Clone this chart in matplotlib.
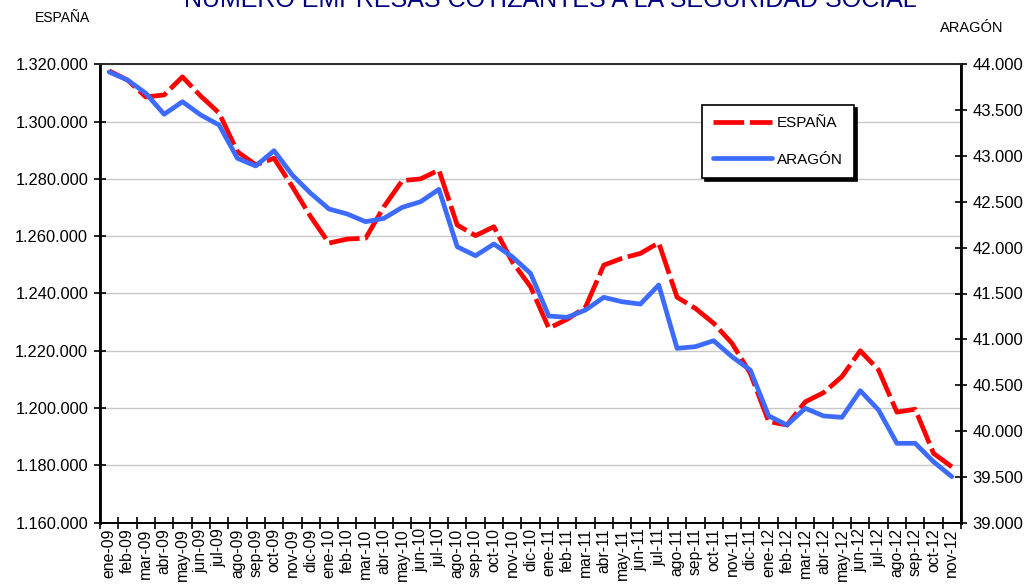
import matplotlib
matplotlib.use("Agg")
import matplotlib.pyplot as plt
from matplotlib.ticker import FuncFormatter, FixedLocator, NullFormatter

plt.rcParams['font.family'] = ['Liberation Sans', 'DejaVu Sans']

months = ["ene-09", "feb-09", "mar-09", "abr-09", "may-09", "jun-09", "jul-09", "ago-09",
          "sep-09", "oct-09", "nov-09", "dic-09",
          "ene-10", "feb-10", "mar-10", "abr-10", "may-10", "jun-10", "jul-10", "ago-10",
          "sep-10", "oct-10", "nov-10", "dic-10",
          "ene-11", "feb-11", "mar-11", "abr-11", "may-11", "jun-11", "jul-11", "ago-11",
          "sep-11", "oct-11", "nov-11", "dic-11",
          "ene-12", "feb-12", "mar-12", "abr-12", "may-12", "jun-12", "jul-12", "ago-12",
          "sep-12", "oct-12", "nov-12"]

espana = [1317700, 1314500, 1308600, 1309300, 1315600, 1308900, 1303000, 1289500,
          1284900, 1287200, 1277300, 1266800,
          1257600, 1259000, 1259300, 1270300, 1279400, 1280000, 1283100, 1263900,
          1260200, 1263300, 1251100, 1242400,
          1227900, 1231000, 1235200, 1249900, 1252300, 1254000, 1257700, 1238700,
          1234800, 1229600, 1222600, 1212100,
          1195300, 1194100, 1202200, 1205400, 1211000, 1220000, 1213300, 1198600,
          1199600, 1184200, 1179500]

aragon = [43916, 43829, 43684, 43455, 43592, 43447, 43338, 42975,
          42891, 43058, 42792, 42593,
          42422, 42367, 42283, 42320, 42440, 42501, 42636, 42010,
          41912, 42040, 41901, 41720,
          41254, 41240, 41320, 41458, 41410, 41385, 41593, 40902,
          40920, 40985, 40810, 40665,
          40166, 40065, 40248, 40164, 40149, 40440, 40229, 39866,
          39866, 39665, 39502]

left_ticks = [1160000, 1180000, 1200000, 1220000, 1240000, 1260000, 1280000, 1300000, 1320000]
right_ticks = [39000, 39500, 40000, 40500, 41000, 41500, 42000, 42500, 43000, 43500, 44000]

title = "NÚMERO EMPRESAS COTIZANTES A LA SEGURIDAD SOCIAL"


def thousands(v, pos=None):
    return f"{int(round(v)):,}".replace(",", ".")


fig = plt.figure(figsize=(10.34, 5.87), dpi=100)
ax = fig.add_axes([100 / 1034, 1 - 522.7 / 587, 861 / 1034, (522.7 - 64.3) / 587])
ax2 = ax.twinx()

x = list(range(len(months)))
red = "#ff0000"
blue = "#3d6bff"

l1, = ax.plot(x, espana, color=red, lw=3.4, linestyle=(0, (6.5, 1.2)),
              dash_capstyle='butt', dash_joinstyle='round', label="ESPAÑA", zorder=3)
l2, = ax2.plot(x, aragon, color=blue, lw=3.4, solid_joinstyle='round',
               solid_capstyle='round', label="ARAGÓN", zorder=2)

ax.set_xlim(-0.5, len(months) - 0.5)
ax.set_ylim(1160000, 1320000)
ax2.set_ylim(39000, 44000)

ax.set_yticks(left_ticks)
ax.yaxis.set_major_formatter(FuncFormatter(thousands))
ax2.set_yticks(right_ticks)
ax2.yaxis.set_major_formatter(FuncFormatter(thousands))

ax.xaxis.set_major_locator(FixedLocator([i - 0.5 for i in range(len(months) + 1)]))
ax.xaxis.set_major_formatter(NullFormatter())
ax.set_xticks(x, minor=True)
ax.set_xticklabels(months, minor=True, rotation=90, fontsize=11.3)
ax.tick_params(axis='x', which='minor', length=0, pad=4)
ax.tick_params(axis='x', which='major', direction='inout', length=9, width=1.2)
ax.tick_params(axis='y', direction='inout', length=9, width=1.2, labelsize=11.8, pad=4)
ax2.tick_params(axis='y', direction='inout', length=9, width=1.2, labelsize=12, pad=4)

ax.grid(axis='y', color='#c8c8c8', lw=1.0)
ax.set_axisbelow(True)

for a in (ax, ax2):
    for sp in a.spines.values():
        sp.set_linewidth(1.2)
        sp.set_color('black')
ax.spines['left'].set_linewidth(2)
ax2.spines['right'].set_linewidth(2)
ax2.spines['top'].set_color('#333333')

leg = ax.legend([l1, l2], ["ESPAÑA", "ARAGÓN"], loc='upper left',
                bbox_to_anchor=((702 - 100) / 861, 1 - (105 - 64.3) / 458.4),
                frameon=True, fancybox=False, shadow={'color': 'black', 'alpha': 1},
                fontsize=11, handlelength=3.8, labelspacing=1.45, borderpad=0.75,
                handletextpad=0.35, borderaxespad=0)
leg.get_frame().set_edgecolor('black')
leg.get_frame().set_linewidth(1.2)
leg.set_zorder(10)

fig.text(0.532, 1.0, title, color='#000080', fontsize=18, ha='center', va='center')
fig.text(35 / 1034, 1 - 18 / 587, "ESPAÑA", fontsize=10, ha='left', va='center')
fig.text(1003 / 1034, 1 - 28 / 587, "ARAGÓN", fontsize=10.5, ha='right', va='center')

fig.savefig("out.png", dpi=100)
